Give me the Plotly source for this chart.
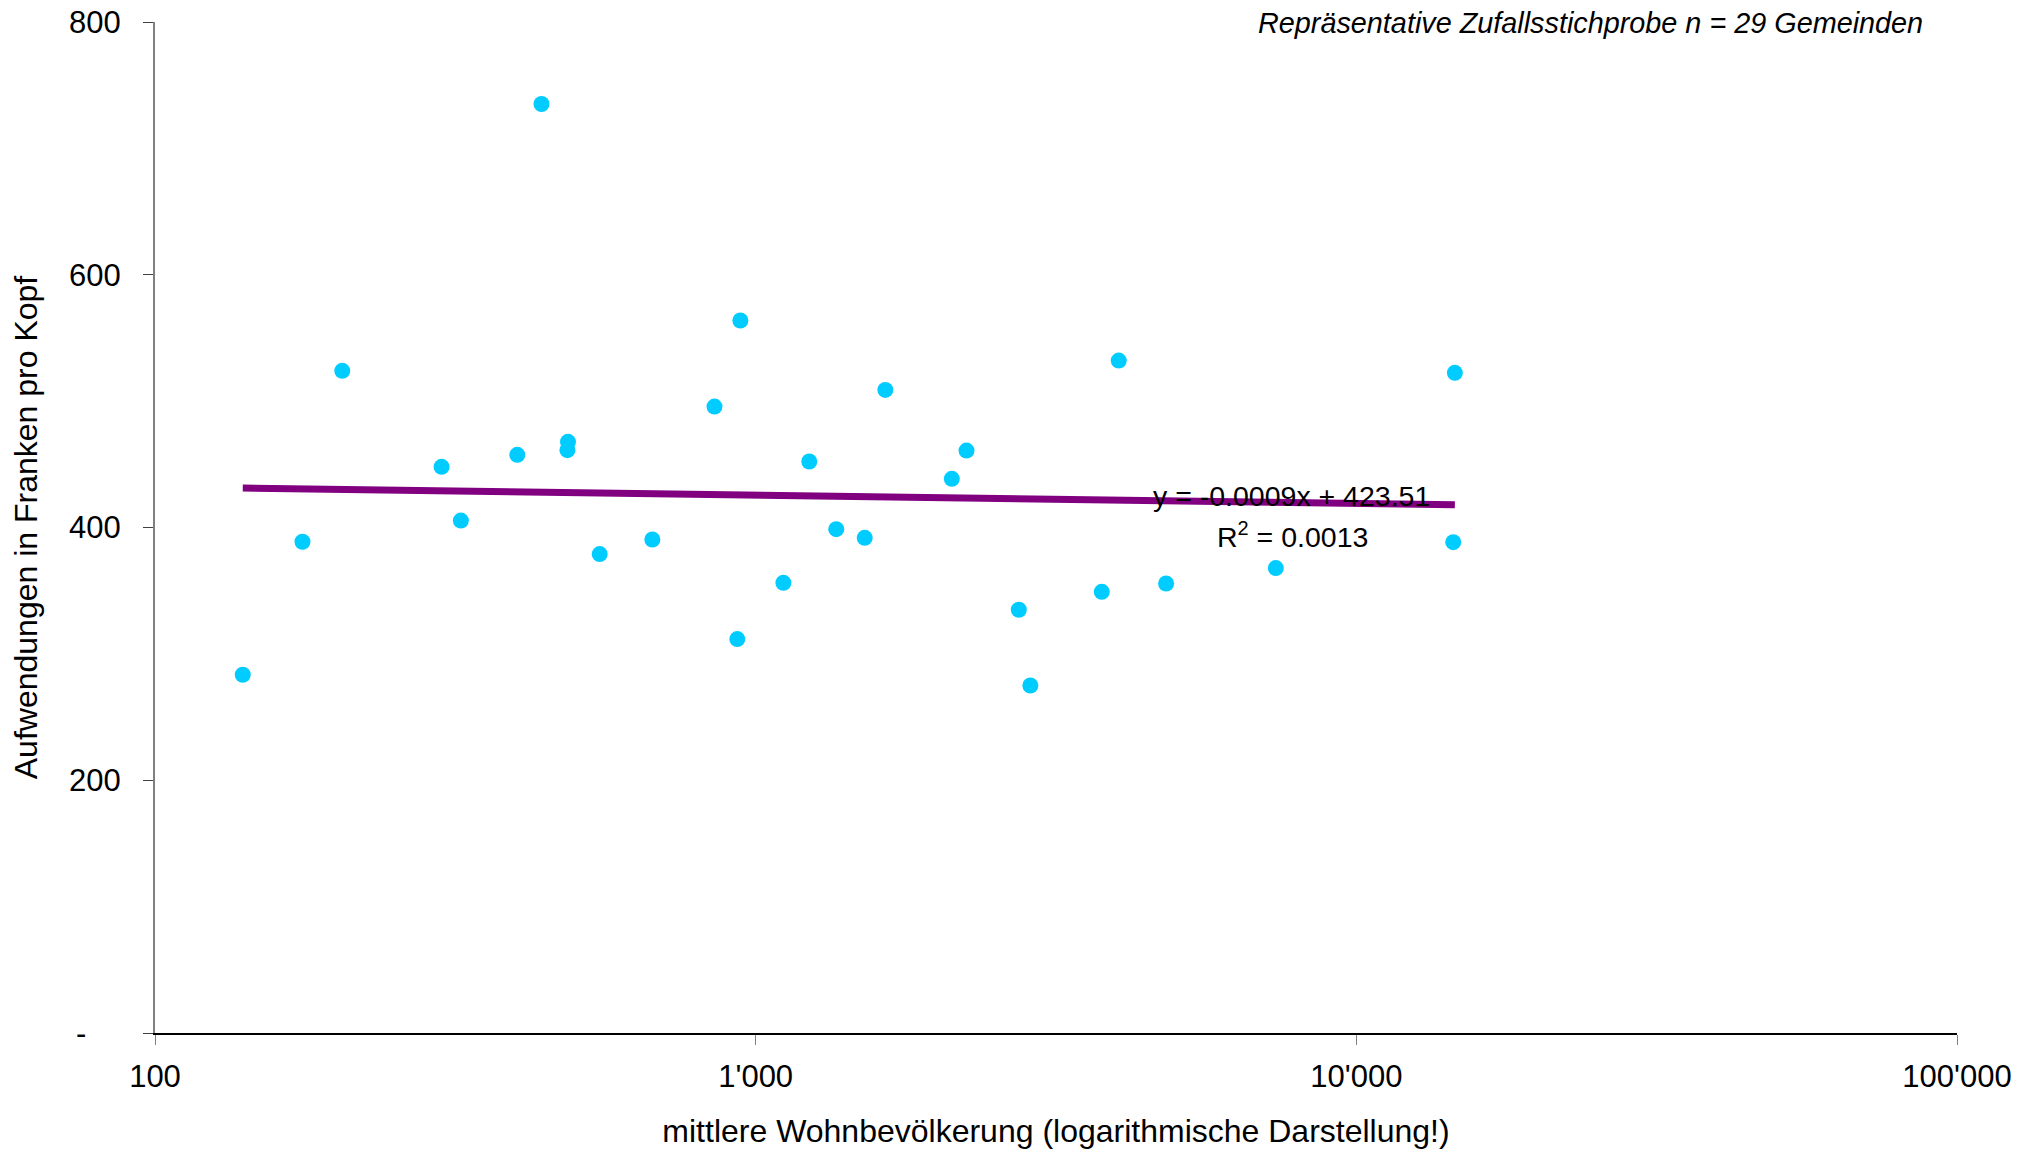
import plotly.graph_objects as go

# Data (mean resident population vs. spending per head, CHF)
population = [140, 176, 205, 300, 323, 401, 440, 487, 486, 550, 673, 854, 932, 943,
              1112, 1228, 1362, 1519, 1644, 2121, 2244, 2742, 2866, 3769, 4022, 4823,
              7345, 14589, 14498]
spending = [283.5, 388.7, 524.0, 448.0, 405.5, 457.5, 735.1, 467.8, 461.2, 379.0,
            390.5, 495.7, 311.7, 563.8, 356.2, 452.2, 398.7, 391.8, 508.9, 438.5,
            460.9, 334.9, 275.0, 349.1, 532.1, 355.7, 367.9, 522.4, 388.4]

trend_y = [431.2, 418.0]
trend_x = [min(population), max(population)]

y_tickvals = [0, 200, 400, 600, 800]
y_ticktext = ["-\u00a0\u00a0\u00a0\u00a0", "200", "400", "600", "800"]
x_tickvals = [100, 1000, 10000, 100000]
x_ticktext = ["100", "1'000", "10'000", "100'000"]

FONT = "Arial, 'Liberation Sans', sans-serif"

fig = go.Figure()
fig.add_trace(go.Scatter(
    x=population, y=spending, mode="markers",
    marker=dict(size=16, color="rgb(0,204,255)", line=dict(width=0)),
    showlegend=False, hoverinfo="x+y"))
fig.add_trace(go.Scatter(
    x=trend_x, y=trend_y, mode="lines",
    line=dict(color="#800080", width=7),
    showlegend=False, hoverinfo="skip"))

fig.update_layout(
    width=2032, height=1144,
    margin=dict(l=147, r=83, t=14, b=119, autoexpand=False),
    paper_bgcolor="white", plot_bgcolor="white",
    font=dict(family=FONT, color="black"),
    xaxis=dict(
        type="log", range=[2, 5],
        tickvals=x_tickvals, ticktext=x_ticktext,
        tickfont=dict(size=31, family=FONT, color="black"),
        ticks="outside", ticklen=10, tickcolor="#808080", tickwidth=1.3,
        ticklabelstandoff=5, ticklabeloverflow="allow",
        showline=True, linecolor="black", linewidth=2,
        showgrid=False, zeroline=False,
        title=dict(text="mittlere Wohnbevölkerung (logarithmische Darstellung!)",
                   font=dict(size=32, family=FONT, color="black"), standoff=26),
        automargin=False,
    ),
    yaxis=dict(
        range=[0, 800],
        tickvals=y_tickvals, ticktext=y_ticktext,
        tickfont=dict(size=31, family=FONT, color="black"),
        ticks="outside", ticklen=10, tickcolor="#404040", tickwidth=1.3,
        ticklabelstandoff=16, ticklabeloverflow="allow",
        showline=True, linecolor="#808080", linewidth=2,
        showgrid=False, zeroline=False,
        title=dict(text="Aufwendungen in Franken pro Kopf",
                   font=dict(size=32, family=FONT, color="black"), standoff=27),
        automargin=False,
    ),
    annotations=[
        dict(text="y = -0.0009x + 423.51", xref="paper", yref="paper",
             x=0.6305, y=0.5314, xanchor="center", yanchor="middle",
             showarrow=False, font=dict(size=28.5, family=FONT, color="black")),
        dict(text="R<sup>2</sup> = 0.0013", xref="paper", yref="paper",
             x=0.6315, y=0.4929, xanchor="center", yanchor="middle",
             showarrow=False, font=dict(size=28.5, family=FONT, color="black")),
        dict(text="<i>Repräsentative Zufallsstichprobe n = 29 Gemeinden</i>",
             xref="paper", yref="paper", x=0.9825, y=0.999,
             xanchor="right", yanchor="middle", showarrow=False,
             font=dict(size=28.8, family=FONT, color="black")),
    ],
)

fig.write_html("out.html")
